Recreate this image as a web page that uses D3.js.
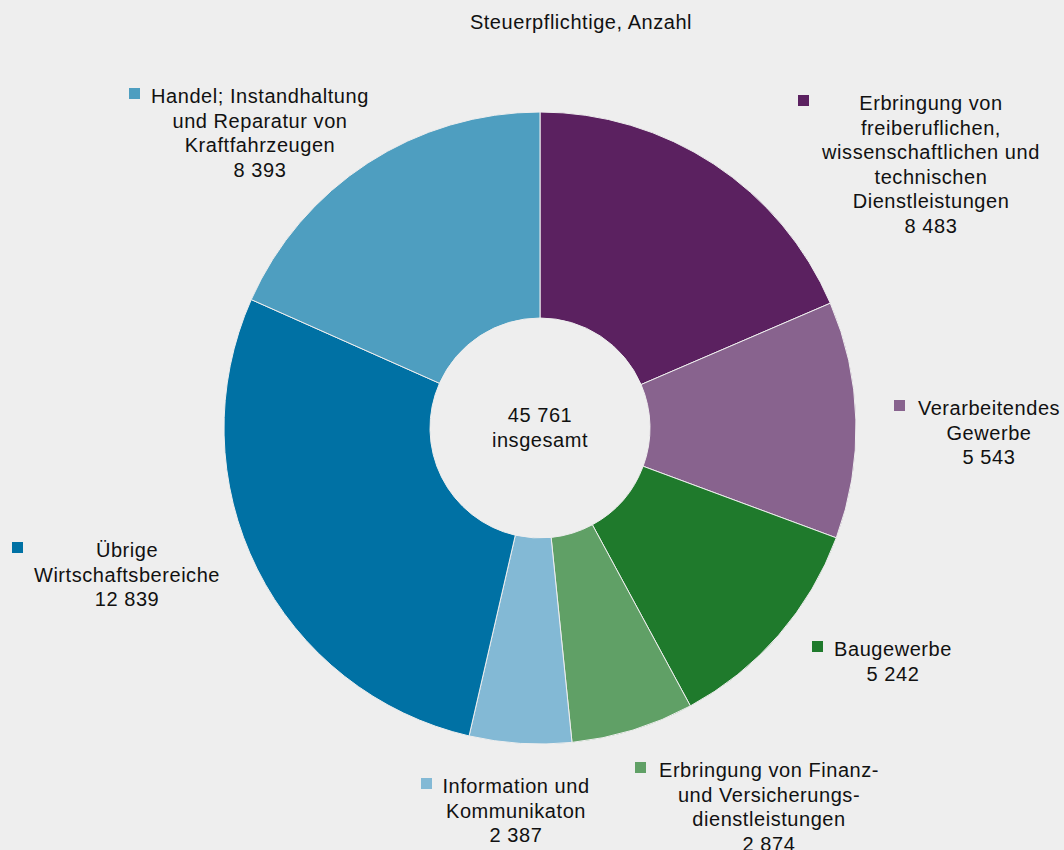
<!DOCTYPE html>
<html lang="de">
<head>
  <meta charset="UTF-8">
  <title>Steuerpflichtige, Anzahl</title>
  <style>
    body {
      margin: 0;
      padding: 0;
      background-color: #eeeeee;
      font-family: "Liberation Sans", Arial, sans-serif;
    }
    svg text {
      fill: #111;
      letter-spacing: 0.55px;
    }
  </style>
  <script src="https://d3js.org/d3.v7.min.js"></script>
</head>
<body>
  <div id="chart"></div>
  <script>
    // Data
    const categories = [
      "Erbringung von freiberuflichen, wissenschaftlichen und technischen Dienstleistungen",
      "Verarbeitendes Gewerbe",
      "Baugewerbe",
      "Erbringung von Finanz- und Versicherungsdienstleistungen",
      "Information und Kommunikaton",
      "Übrige Wirtschaftsbereiche",
      "Handel; Instandhaltung und Reparatur von Kraftfahrzeugen"
    ];
    const values = [8483, 5543, 5242, 2874, 2387, 12839, 8393];
    const labelLines = [
      ["Erbringung von", "freiberuflichen,", "wissenschaftlichen und", "technischen", "Dienstleistungen"],
      ["Verarbeitendes", "Gewerbe"],
      ["Baugewerbe"],
      ["Erbringung von Finanz-", "und Versicherungs-", "dienstleistungen"],
      ["Information und", "Kommunikaton"],
      ["Übrige", "Wirtschaftsbereiche"],
      ["Handel; Instandhaltung", "und Reparatur von", "Kraftfahrzeugen"]
    ];
    const colors = ["#5b2160", "#88638e", "#1f7a2c", "#60a066", "#83b9d5", "#0071a4", "#4e9ec0"];
    const title = "Steuerpflichtige, Anzahl";
    const centerLines = ["45 761", "insgesamt"];

    // Layout (label anchors: text centre x, first baseline y, legend square x)
    const labelLayout = [
      { x: 931, y: 110, sq: 803 },
      { x: 989, y: 415, sq: 899 },
      { x: 893, y: 656, sq: 817 },
      { x: 769, y: 777, sq: 640 },
      { x: 516, y: 793, sq: 426 },
      { x: 127, y: 557, sq: 17 },
      { x: 260, y: 103, sq: 134 }
    ];

    const width = 1064, height = 850;
    const cx = 540, cy = 428;
    const outerR = 316, innerR = 110;
    const fontSize = 20, lineH = 24.5;

    const fmt = v => d3.format(",")(v).replace(/,/g, " ");

    const svg = d3.select("#chart")
      .append("svg")
      .attr("width", width)
      .attr("height", height);

    svg.append("rect")
      .attr("width", width)
      .attr("height", height)
      .attr("fill", "#eeeeee");

    svg.append("text")
      .attr("x", 581)
      .attr("y", 29)
      .attr("text-anchor", "middle")
      .attr("font-size", fontSize)
      .text(title);

    const pie = d3.pie().sort(null).value(d => d);
    const arc = d3.arc().innerRadius(innerR).outerRadius(outerR);

    const g = svg.append("g")
      .attr("transform", `translate(${cx},${cy})`);

    g.selectAll("path")
      .data(pie(values))
      .enter()
      .append("path")
      .attr("d", arc)
      .attr("fill", (d, i) => colors[i])
      .attr("stroke", "#eeeeee")
      .attr("stroke-width", 1);

    g.append("text")
      .attr("text-anchor", "middle")
      .attr("font-size", fontSize)
      .selectAll("tspan")
      .data(centerLines)
      .enter()
      .append("tspan")
      .attr("x", 0)
      .attr("y", (d, i) => -6 + i * lineH)
      .text(d => d);

    // Labels with legend squares
    categories.forEach((cat, i) => {
      const L = labelLayout[i];
      const lines = labelLines[i].concat([fmt(values[i])]);
      svg.append("rect")
        .attr("x", L.sq - 5)
        .attr("y", L.y - 15)
        .attr("width", 11)
        .attr("height", 11)
        .attr("fill", colors[i]);
      const t = svg.append("text")
        .attr("text-anchor", "middle")
        .attr("font-size", fontSize);
      t.selectAll("tspan")
        .data(lines)
        .enter()
        .append("tspan")
        .attr("x", L.x)
        .attr("y", (d, j) => L.y + j * lineH)
        .text(d => d);
    });
  </script>
</body>
</html>
